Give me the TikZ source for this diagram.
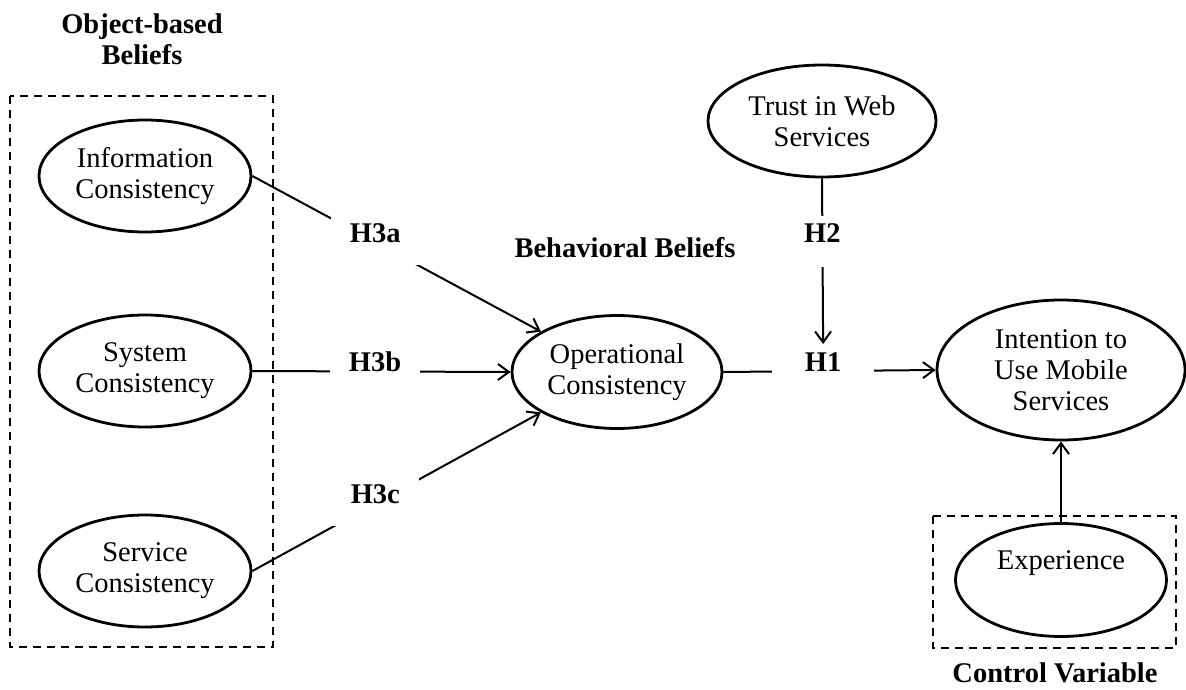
\documentclass[tikz,border=0pt]{standalone}
\usepackage{fontspec}
\setmainfont{Liberation Serif}
\usetikzlibrary{arrows.meta,shapes.geometric}

\begin{document}
\begin{tikzpicture}[x=1pt, y=-1pt,
  every node/.style={font=\fontsize{28.5}{31}\selectfont},
  construct/.style={draw, ellipse, line width=2.8pt, inner sep=0pt, align=center,
    minimum width=212pt, minimum height=112pt},
  heading/.style={font=\fontsize{28.5}{31}\selectfont\bfseries, align=center},
  hyp/.style={font=\fontsize{28.5}{31}\selectfont\bfseries, fill=white, anchor=base,
    text height=19pt, text depth=0pt, inner xsep=19pt, inner ysep=23pt},
  link/.style={line width=2pt},
  arrow/.style={link, -{Straight Barb[length=11pt, width=16pt, line width=2pt]}},
  group/.style={line width=2pt, dash pattern=on 8pt off 6pt}
]
  \useasboundingbox (0,0) rectangle (1186,690);

  \node[heading] (objhead) at (142,39) {Object-based\\Beliefs};
  \node[heading, anchor=base] (behhead) at (625,257) {Behavioral Beliefs};
  \node[heading, anchor=base] (ctrlhead) at (1055,682) {Control Variable};

  \draw[group] (10,96) rectangle (273,647);
  \draw[group] (933,516) rectangle (1176,648);

  \node[construct] (info) at (145,176) {Information\\Consistency};
  \node[construct] (sys) at (145,371) {System\\Consistency};
  \node[construct] (serv) at (145,571) {Service\\Consistency};
  \node[construct, minimum width=210pt, minimum height=113pt] (oper) at (617,372)
    {Operational\\Consistency};
  \node[construct, minimum width=228pt] (trust) at (822,121) {Trust in Web\\Services};
  \node[construct, minimum width=248pt, minimum height=140pt] (intent) at (1061,370)
    {Intention to\\Use Mobile\\Services};
  \node[construct, minimum width=211pt, minimum height=113pt] (exper) at (1061,580)
    {Experience\\\strut};

  \draw[arrow] (info.east) -- node[hyp, pos=0.426] (h3a) {H3a} (oper.152);
  \draw[arrow] (sys.east) -- node[hyp, pos=0.475] (h3b) {H3b} (oper.west);
  \draw[arrow] (serv.east) -- node[hyp, pos=0.426] (h3c) {H3c} (oper.208);
  \draw[arrow] (oper.east) -- node[hyp, pos=0.47, inner xsep=33pt, inner ysep=7pt] (h1) {H1}
    (intent.west);
  \draw[arrow] (trust.south) -- node[hyp, pos=0.385, text depth=18pt, inner ysep=7pt] (h2) {H2}
    (h1.north);
  \draw[arrow] (exper.north) -- (intent.south);
\end{tikzpicture}
\end{document}
